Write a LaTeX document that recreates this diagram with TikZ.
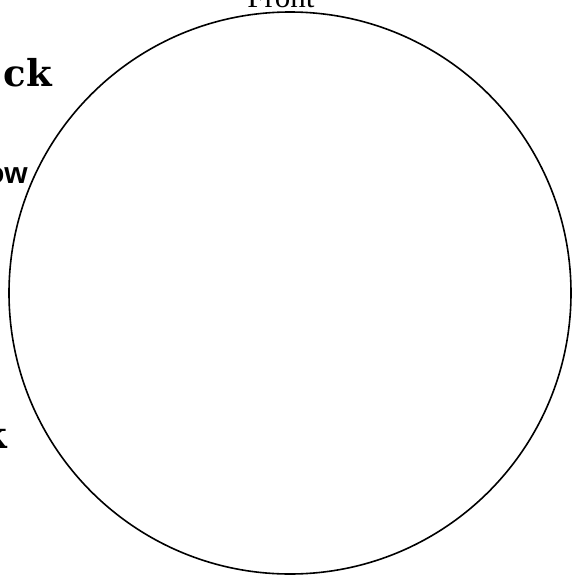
\documentclass[tikz,border=0pt]{standalone}
\usepackage{fontspec}
\newfontfamily\frontfont{Liberation Serif}
\newfontfamily\slabfont{DejaVu Serif}
\newfontfamily\sansfont{Liberation Sans}
\begin{document}
\begin{tikzpicture}[x=1pt, y=-1pt,
        outline/.style={draw, line width=1.6pt},
        toplabel/.style={anchor=base, inner sep=0pt, font=\frontfont\fontsize{31}{31}\selectfont},
        sidelabel/.style={anchor=base east, inner sep=0pt, font=\slabfont\bfseries\fontsize{37}{37}\selectfont},
        smalllabel/.style={anchor=base east, inner sep=0pt, font=\sansfont\bfseries\fontsize{30}{30}\selectfont}]

        \clip (0,0) rectangle (572,576);
        \coordinate (centre) at (290,293);
        \draw [outline] (centre) circle [radius=281];

        \node [toplabel] (front) at (281,7) {Front};
        \node [sidelabel] (ck) at (52,86) {ck};
        \node [smalllabel] (ow) at (28,183) {ow};
        \node [sidelabel] (k) at (7,448) {k};

\end{tikzpicture}
\end{document}
